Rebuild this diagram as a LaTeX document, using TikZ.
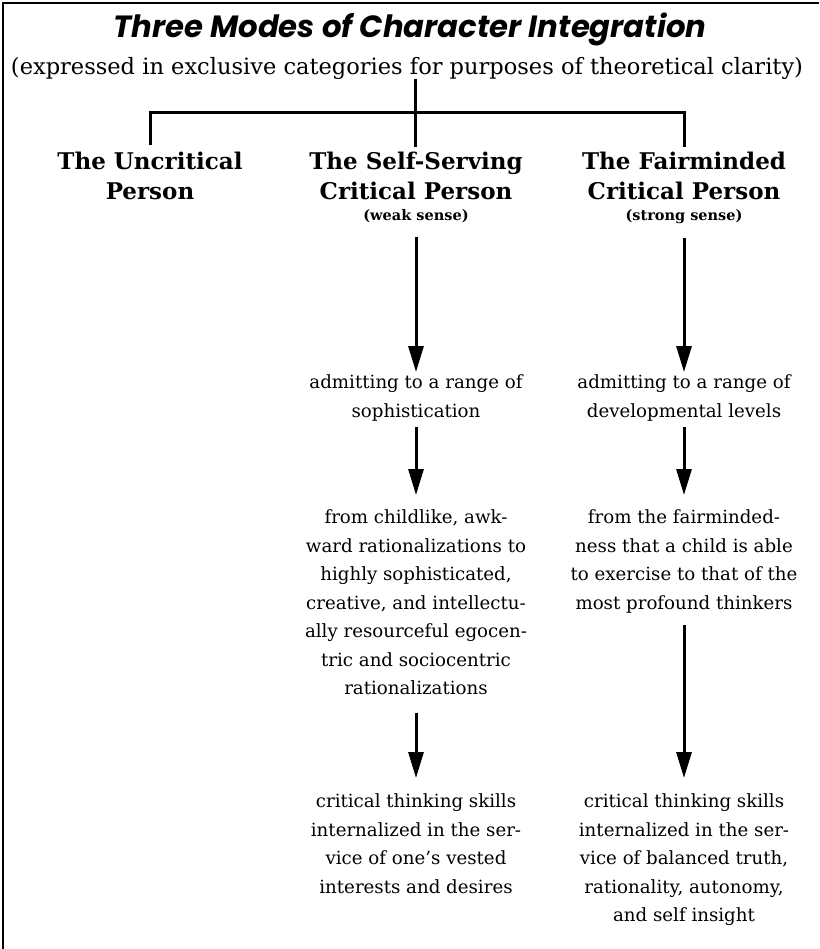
\documentclass[tikz,border=0pt]{standalone}
\usepackage{graphicx}
\usepackage{fontspec}
\setmainfont{DejaVu Serif}
\newfontfamily\titlefont{Poppins}
\usetikzlibrary{arrows.meta}
\begin{document}
\begin{tikzpicture}[x=1pt,y=-1pt,
  every node/.style={inner sep=0pt, outer sep=0pt},
  head/.style={font=\fontsize{23}{30}\selectfont\bfseries, align=center, anchor=north},
  sense/.style={font=\fontsize{14.5}{18}\selectfont\bfseries, anchor=north},
  body/.style={font=\fontsize{18.2}{28.5}\selectfont, align=center, anchor=north},
  tree/.style={line width=3pt},
  arr/.style={line width=3pt, -{Triangle[length=26pt,width=15pt]}},
  frame/.style={line width=1.2pt}]
\useasboundingbox (0,0) rectangle (819,949);
\fill[white] (0,0) rectangle (819,949);
% frame
\draw[frame] (3,949) -- (3,3) -- (819,3);
% title
\node (title) at (410,29) {\resizebox{593pt}{!}{\titlefont\bfseries\itshape Three Modes of Character Integration}};
\node (sub) at (407,68) {\resizebox{792pt}{!}{\fontsize{20}{24}\selectfont (expressed in exclusive categories for purposes of theoretical clarity)}};
% headings
\node[head] (uname) at (150,152) {The Uncritical\\Person};
\node[head] (mname) at (416,152) {The Self-Serving\\Critical Person};
\node[head] (fname) at (684,152) {The Fairminded\\Critical Person};
\node[sense] (mws) at (416,209) {(weak sense)};
\node[sense] (fws) at (684,209) {(strong sense)};
% tree
\coordinate (j) at (415,113);
\coordinate (jb) at (415,147);
\draw[tree] (sub.south -| j) -- (jb);
\draw[tree] ([yshift=7pt]uname.north) -- (uname.north |- j) -- (fname.north |- j) -- ([yshift=5pt]fname.north);
% middle column
\node[body] (mt1) at (416,375) {admitting to a range of\\sophistication};
\node[body] (mt2) at (416,510) {from childlike, awk-\\ward rationalizations to\\highly sophisticated,\\creative, and intellectu-\\ally resourceful egocen-\\tric and sociocentric\\rationalizations};
\node[body] (mt3) at (416,794) {critical thinking skills\\internalized in the ser-\\vice of one’s vested\\interests and desires};
% right column
\node[body] (ft1) at (684,375) {admitting to a range of\\developmental levels};
\node[body] (ft2) at (684,510) {from the fairminded-\\ness that a child is able\\to exercise to that of the\\most profound thinkers};
\node[body] (ft3) at (684,794) {critical thinking skills\\internalized in the ser-\\vice of balanced truth,\\rationality, autonomy,\\and self insight};
% arrows
\draw[arr, shorten <=14.5pt, shorten >=3pt] (mws.south) -- (mt1.north);
\draw[arr, shorten <=14.5pt, shorten >=3pt] (fws.south) -- (ft1.north);
\draw[arr, shorten <=6pt, shorten >=15pt] (mt1.south) -- (mt2.north);
\draw[arr, shorten <=6pt, shorten >=15pt] (ft1.south) -- (ft2.north);
\draw[arr, shorten <=18pt, shorten >=16pt] (mt2.south) -- (mt3.north);
\draw[arr, shorten <=12pt, shorten >=16pt] (ft2.south) -- (ft3.north);
\end{tikzpicture}
\end{document}
